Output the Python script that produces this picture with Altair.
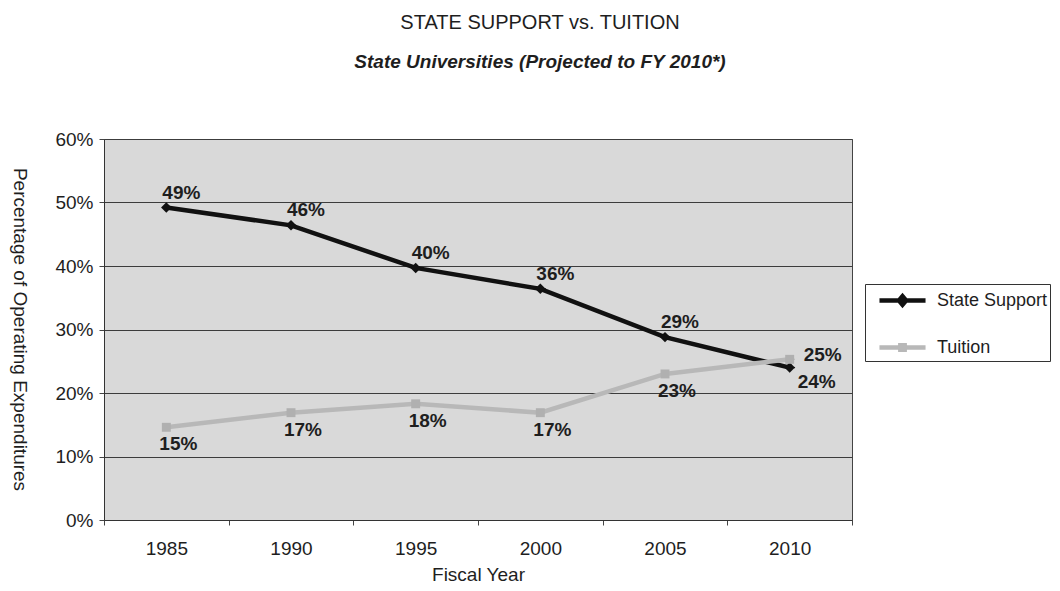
import altair as alt
import pandas as pd

years = [1985, 1990, 1995, 2000, 2005, 2010]
state_support = [0.492, 0.464, 0.397, 0.364, 0.288, 0.240]
tuition = [0.146, 0.169, 0.183, 0.169, 0.230, 0.253]
series_names = ["State Support", "Tuition"]
series_colors = ["#111111", "#b8b8b8"]
y_ticks = [0, 0.1, 0.2, 0.3, 0.4, 0.5, 0.6]

rows = []
for name, vals in zip(series_names, [state_support, tuition]):
    for yr, v in zip(years, vals):
        rows.append({"year": yr, "series": name, "value": v})
df = pd.DataFrame(rows)

FONT = "Liberation Sans"
TXT = "#1e1e1e"

x = alt.X(
    "year:O",
    scale=alt.Scale(type="band", paddingInner=0, paddingOuter=0),
    bandPosition=0.5,
    axis=alt.Axis(
        title="Fiscal Year", labelAngle=0, tickBand="extent", grid=False,
        labelFont=FONT, labelFontSize=19, labelColor=TXT, labelPadding=14,
        titleFont=FONT, titleFontSize=19, titleFontWeight="normal", titleColor=TXT,
        titlePadding=7, tickSize=5, tickColor="#444", domainColor="#333",
    ),
)
y = alt.Y(
    "value:Q",
    scale=alt.Scale(domain=[0, 0.6]),
    axis=alt.Axis(
        title="Percentage of Operating Expenditures", format=".0%", values=y_ticks,
        grid=True, gridColor="#3c3c3c", gridWidth=1,
        labelFont=FONT, labelFontSize=19, labelColor=TXT, labelPadding=6,
        titleFont=FONT, titleFontSize=19, titleFontWeight="normal", titleColor=TXT,
        titleAngle=90, titleX=-85, titleY=190, titleAlign="center", titleBaseline="middle",
        tickSize=5, tickColor="#444", domainColor="#333",
    ),
)

# legend glyphs: a bar with the series marker in its middle (drawn with the line's stroke)
state_sym = "M-0.17,0H3.67 M1.75,-0.35L2.05,0L1.75,0.35L1.45,0Z"
tuition_sym = "M-0.17,0H3.67 M1.57,-0.18H1.93V0.18H1.57Z"

leg = alt.Legend(title=None, orient="none", legendX=761, legendY=145,
                 strokeColor="#333", fillColor="white", padding=2,
                 labelFont=FONT, labelFontSize=18, labelColor=TXT,
                 labelOffset=41, symbolSize=576, symbolStrokeWidth=4.5, rowPadding=19)

color = alt.Color("series:N", scale=alt.Scale(domain=series_names, range=series_colors), legend=leg)
shape_enc = alt.Shape("series:N", scale=alt.Scale(domain=series_names, range=[state_sym, tuition_sym]), legend=leg)

base = alt.Chart(df)

lines = base.mark_line(strokeWidth=4.5).encode(x=x, y=y, color=color, shape=shape_enc)

state_pts = base.transform_filter("datum.series == 'State Support'").mark_point(
    shape="diamond", filled=True, size=110, opacity=1, color="#111111"
).encode(x=x, y=y)
tuition_pts = base.transform_filter("datum.series == 'Tuition'").mark_point(
    shape="square", filled=True, size=80, opacity=1, color="#b0b0b0"
).encode(x=x, y=y)

lbl_style = dict(font=FONT, fontSize=19, fontWeight="bold", color=TXT)
txt = alt.Text("value:Q", format=".0%")
state_lbl = base.transform_filter("datum.series == 'State Support' && datum.year < 2010").mark_text(
    dx=15, dy=-15, **lbl_style).encode(x=x, y=y, text=txt)
state_lbl_last = base.transform_filter("datum.series == 'State Support' && datum.year == 2010").mark_text(
    dx=27, dy=14, **lbl_style).encode(x=x, y=y, text=txt)
tuition_lbl = base.transform_filter("datum.series == 'Tuition' && datum.year < 2010").mark_text(
    dx=12, dy=17, **lbl_style).encode(x=x, y=y, text=txt)
tuition_lbl_last = base.transform_filter("datum.series == 'Tuition' && datum.year == 2010").mark_text(
    dx=33, dy=-4, **lbl_style).encode(x=x, y=y, text=txt)

chart = alt.layer(
    lines, state_pts, tuition_pts, state_lbl, state_lbl_last, tuition_lbl, tuition_lbl_last
).properties(
    width=748,
    height=381,
    padding={"left": 96, "top": 131, "right": 200, "bottom": 70},
    autosize=alt.AutoSizeParams(type="none"),
    title=alt.TitleParams(
        text="STATE SUPPORT vs. TUITION",
        subtitle="State Universities (Projected to FY 2010*)",
        font=FONT, fontSize=20, fontWeight="normal", color=TXT,
        subtitleFont=FONT, subtitleFontSize=19, subtitleFontStyle="italic",
        subtitleFontWeight="bold", subtitleColor=TXT, subtitlePadding=20,
        anchor="middle", dx=62, offset=58,
    ),
).configure_view(
    fill="#d9d9d9", stroke="#444", strokeWidth=1
)

chart.save("out.html", embed_options={"renderer": "svg", "actions": False})
